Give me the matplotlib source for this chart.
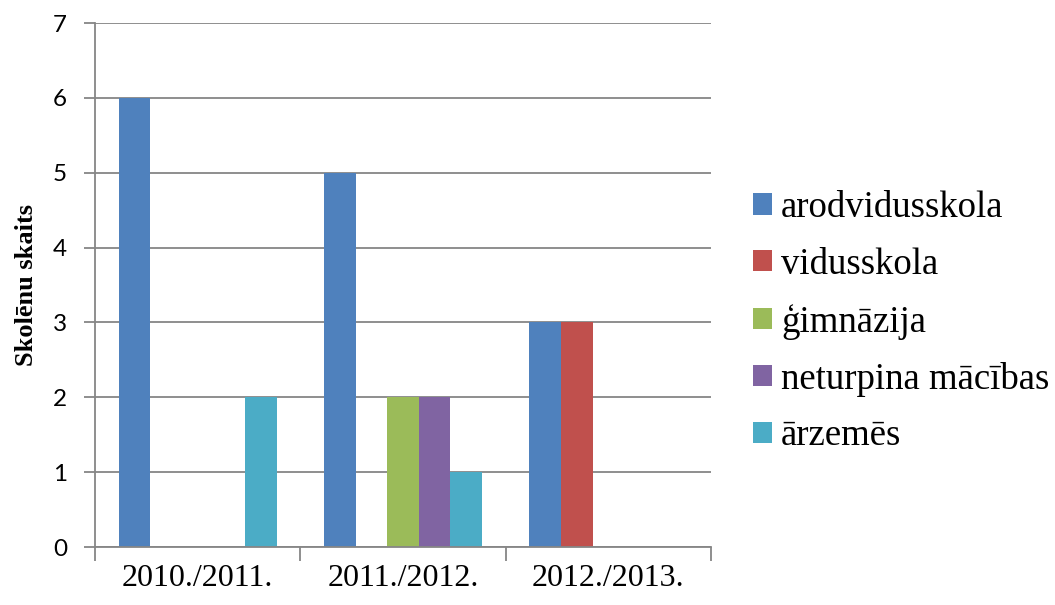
import matplotlib
matplotlib.use("Agg")
import matplotlib.pyplot as plt
import numpy as np

plt.rcParams["font.family"] = ["Liberation Serif", "DejaVu Serif"]
plt.rcParams["legend.fontsize"] = 26.5

categories = ["2010./2011.", "2011./2012.", "2012./2013."]
series_names = ["arodvidusskola", "vidusskola", "ģimnāzija", "neturpina mācības", "ārzemēs"]
arodvidusskola = [6, 5, 3]
vidusskola = [0, 0, 3]
gimnazija = [0, 2, 0]
neturpina = [0, 2, 0]
arzemes = [2, 1, 0]
series_values = [arodvidusskola, vidusskola, gimnazija, neturpina, arzemes]
colors = ["#4F81BD", "#C0504D", "#9BBB59", "#8064A2", "#4BACC6"]
y_label = "Skolēnu skaits"

fig = plt.figure(figsize=(10.55, 6.05), dpi=100)
ax = fig.add_axes([95/1055, 1-547/605, (711-95)/1055, (547-23)/605])

x = np.arange(len(categories))
w = 1/6.5
for i, (name, vals, c) in enumerate(zip(series_names, series_values, colors)):
    ax.bar(x + (i-2)*w, vals, width=w, color=c, label=name, linewidth=0, zorder=2)

ax.set_xlim(-0.5, len(categories)-0.5)
ax.set_ylim(0, 7)
ax.set_yticks(range(0, 8))
ax.set_yticklabels([str(v) for v in range(0, 8)], fontfamily="Lato", fontsize=17.5)
ax.yaxis.grid(True, color="#868686", linewidth=1.3, zorder=0)
ax.set_axisbelow(True)

for s in ["top", "right"]:
    ax.spines[s].set_visible(False)
for s in ["left", "bottom"]:
    ax.spines[s].set_color("#868686")
    ax.spines[s].set_linewidth(1.3)

ax.set_xticks(np.arange(-0.5, len(categories)), minor=False)
ax.set_xticklabels([])
ax.set_xticks(x, minor=True)
ax.set_xticklabels(categories, minor=True, fontsize=23)
ax.tick_params(axis="x", which="major", length=10, width=1.3, color="#868686", direction="out")
ax.tick_params(axis="x", which="minor", length=0, pad=12)
ax.tick_params(axis="y", length=8, width=1.3, color="#868686", direction="out", pad=12)

ax.set_ylabel(y_label, fontweight="bold", fontsize=19, labelpad=11)

leg = ax.legend(loc="center left", bbox_to_anchor=(753/1055, 1-322/605),
                bbox_transform=fig.transFigure, frameon=False,
                handlelength=0.52, handleheight=0.52, handletextpad=0.24, labelspacing=0.6,
                borderpad=0, borderaxespad=0)

fig.savefig("out.png", dpi=100)
